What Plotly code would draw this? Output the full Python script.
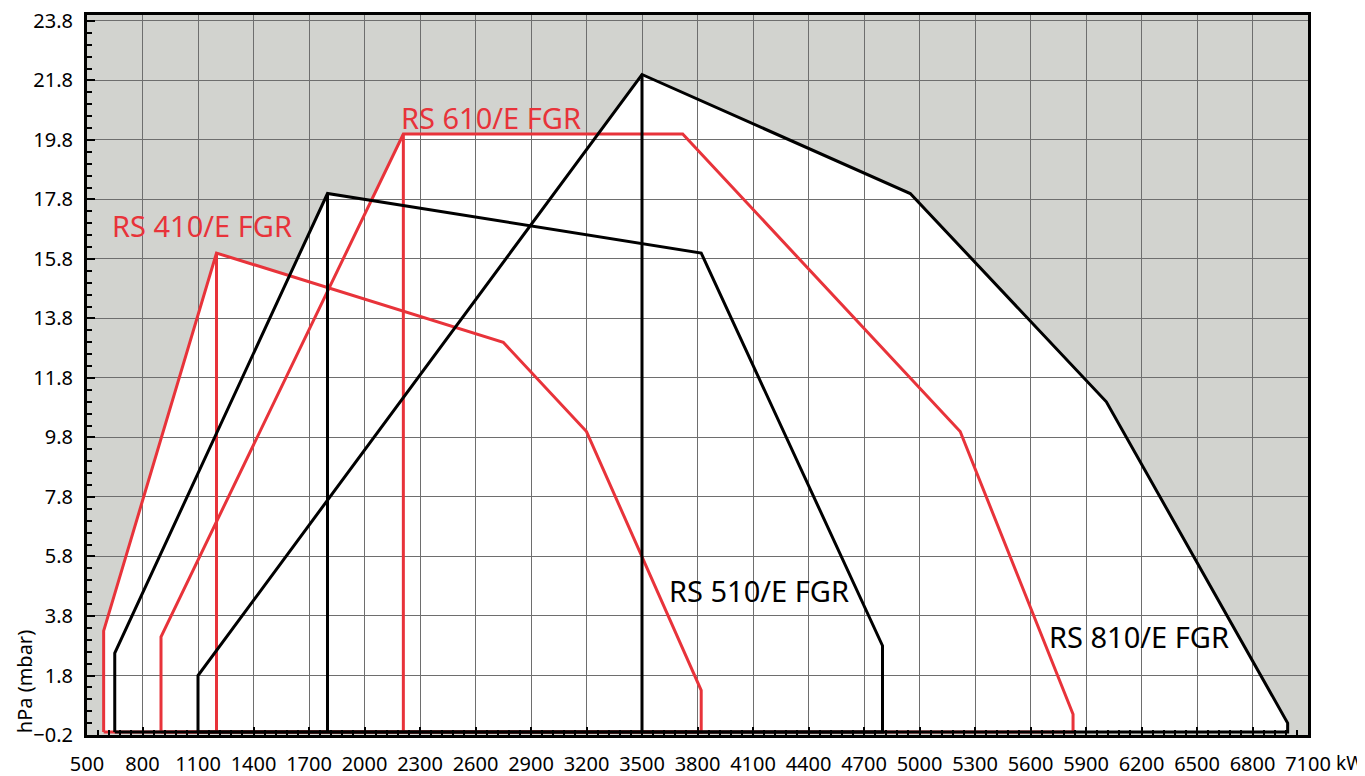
import plotly.graph_objects as go

# ---- data (kW, hPa) ----
x_ticks = list(range(500, 7101, 300))
y_ticks = [-0.2 + 2 * i for i in range(13)]

rs410_kw = [590, 590, 1200, 2750, 3200, 3820, 3820]
rs410_hpa = [-0.1, 3.3, 16.0, 13.0, 10.0, 1.3, -0.1]

rs510_kw = [650, 650, 1800, 3820, 4800, 4800]
rs510_hpa = [-0.1, 2.55, 18.0, 16.0, 2.8, -0.1]

rs610_kw = [900, 900, 2210, 3720, 5220, 5830, 5830]
rs610_hpa = [-0.1, 3.1, 20.0, 20.0, 10.0, 0.5, -0.1]

rs810_kw = [1100, 1100, 3500, 4950, 6010, 6990, 6990]
rs810_hpa = [-0.1, 1.8, 22.0, 18.0, 11.0, 0.2, -0.1]

models = ["RS 410/E FGR", "RS 510/E FGR", "RS 610/E FGR", "RS 810/E FGR"]
peak_index = [2, 2, 2, 2]

RED = "#e8333a"
BLACK = "#000000"
FONT = "Noto Sans"

series = [
    (rs410_kw, rs410_hpa, RED, peak_index[0]),
    (rs610_kw, rs610_hpa, RED, peak_index[2]),
    (rs510_kw, rs510_hpa, BLACK, peak_index[1]),
    (rs810_kw, rs810_hpa, BLACK, peak_index[3]),
]

fig = go.Figure()
shapes = []
for xs, ys, col, pk in series:
    path = "M " + " L ".join(f"{x},{y}" for x, y in zip(xs, ys)) + " Z"
    shapes.append(dict(type="path", path=path, xref="x", yref="y",
                       fillcolor="white", line=dict(width=0), layer="below"))

for xs, ys, col, pk in series:
    lx = xs + [xs[0], None, xs[pk], xs[pk]]
    ly = ys + [ys[0], None, ys[pk], ys[0]]
    fig.add_trace(go.Scatter(x=lx, y=ly, mode="lines",
                             line=dict(color=col, width=3),
                             hoverinfo="skip", showlegend=False))

LBL = 29
annotations = [
    dict(text=models[0], x=624, y=16.92, xref="x", yref="y", xanchor="left",
         yanchor="middle", showarrow=False, font=dict(size=LBL, color=RED, family=FONT)),
    dict(text=models[2], x=2186, y=20.55, xref="x", yref="y", xanchor="left",
         yanchor="middle", showarrow=False, font=dict(size=LBL, color=RED, family=FONT)),
    dict(text=models[1], x=3635, y=4.65, xref="x", yref="y", xanchor="left",
         yanchor="middle", showarrow=False, font=dict(size=LBL, color=BLACK, family=FONT)),
    dict(text=models[3], x=5689, y=3.1, xref="x", yref="y", xanchor="left",
         yanchor="middle", showarrow=False, font=dict(size=LBL, color=BLACK, family=FONT)),
    dict(text="hPa (mbar)", x=-0.051, y=-0.2, xref="paper", yref="y",
         xanchor="center", yanchor="bottom", textangle=-90, showarrow=False,
         font=dict(size=20, color=BLACK, family=FONT)),
    dict(text="kW", x=1.0, y=0, xref="paper", yref="paper", xanchor="left",
         yanchor="middle", xshift=26, yshift=-28, showarrow=False,
         font=dict(size=19, color=BLACK, family=FONT)),
]

# the page body adds an 8px offset, so the figure is 8px smaller and margins shifted
fig.update_layout(
    width=1357, height=768,
    margin=dict(l=79, r=57, t=7, b=41, pad=0),
    paper_bgcolor="white",
    plot_bgcolor="#d2d3cf",
    shapes=shapes,
    annotations=annotations,
    font=dict(family=FONT, size=20, color="black"),
    showlegend=False,
)
fig.update_xaxes(
    range=[500, 7100], tickvals=x_ticks, ticktext=[str(v) for v in x_ticks],
    showgrid=True, gridcolor="#6e6e6e", gridwidth=1,
    showline=True, linecolor="black", linewidth=3, mirror=True,
    ticks="inside", ticklen=8, tickcolor="black", tickwidth=2,
    minor=dict(ticks="inside", ticklen=5, dtick=60, tick0=500,
               tickcolor="black", tickwidth=1.5, showgrid=False),
    tickfont=dict(size=20, family=FONT), zeroline=False,
    ticklabelstandoff=9, automargin=False, ticklabeloverflow="allow",
)
fig.update_yaxes(
    range=[-0.2, 24.0], tickvals=y_ticks, ticktext=[f"{v:.1f}".replace("-", "\u2212") for v in y_ticks],
    showgrid=True, gridcolor="#6e6e6e", gridwidth=1,
    showline=True, linecolor="black", linewidth=3, mirror=True,
    ticks="inside", ticklen=8, tickcolor="black", tickwidth=2,
    minor=dict(ticks="inside", ticklen=5, dtick=0.4, tick0=-0.2,
               tickcolor="black", tickwidth=1.5, showgrid=False),
    tickfont=dict(size=20, family=FONT), zeroline=False,
    ticklabelstandoff=7, automargin=False, ticklabeloverflow="allow",
)

fig.write_html("out.html")
